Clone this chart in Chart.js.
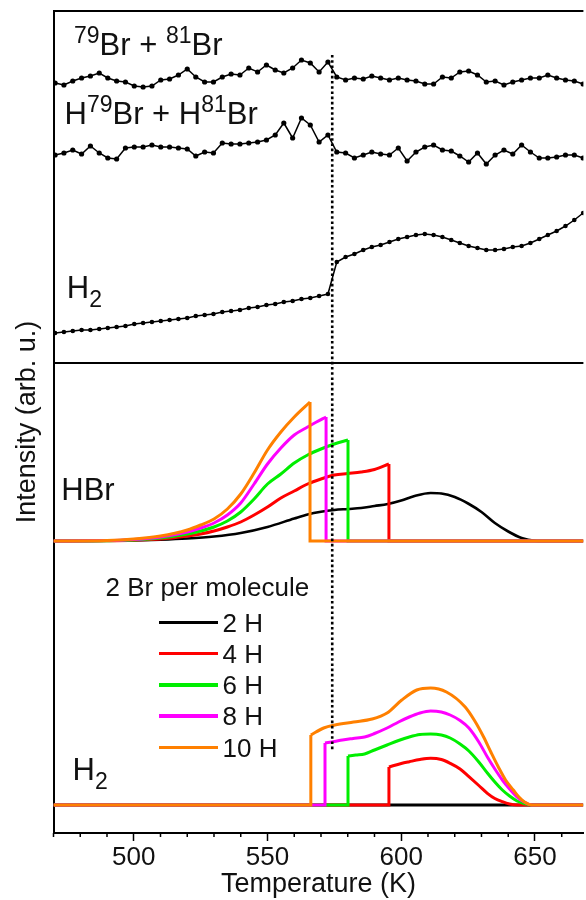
<!DOCTYPE html>
<html><head><meta charset="utf-8">
<script src="https://cdn.jsdelivr.net/npm/chart.js@4.4.1/dist/chart.umd.min.js"></script>
<style>
html,body{margin:0;padding:0;background:#fff;overflow:hidden;}
#wrap{position:relative;width:586px;height:900px;}
#c{position:absolute;left:0;top:0;}
.lbl{position:absolute;font-family:'Liberation Sans',Arial,sans-serif;color:#111;line-height:1;white-space:nowrap;}
.big{font-size:31px;}
.sup{font-size:23px;position:relative;top:-12px;}
.sub{font-size:23px;position:relative;top:9px;}
.leg{font-size:26px;}
.sw{position:absolute;height:3.5px;width:59px;}
</style></head>
<body><div id="wrap"><canvas id="c" width="586" height="900" style="width:586px;height:900px"></canvas>
<div class="lbl big" style="left:74px;top:28.8px"><span class="sup">79</span>Br + <span class="sup">81</span>Br</div>
<div class="lbl big" style="left:64.5px;top:97.8px">H<span class="sup">79</span>Br + H<span class="sup">81</span>Br</div>
<div class="lbl big" style="left:66.8px;top:272px">H<span class="sub">2</span></div>
<div class="lbl big" style="left:61.3px;top:473.8px">HBr</div>
<div class="lbl big" style="left:72.5px;top:753.8px">H<span class="sub">2</span></div>
<div class="lbl leg" style="left:105.5px;top:574px">2 Br per molecule</div>
<div id="legend"></div>
</div>
<script>
// ---------- data ----------
const TOP_T = [470.6, 473.9, 477.2, 480.5, 483.8, 487.1, 490.3, 493.6, 496.9, 500.2,
  503.5, 506.8, 510.1, 513.4, 516.7, 520.0, 523.2, 526.5, 529.8, 533.1,
  536.4, 539.7, 543.0, 546.3, 549.6, 552.9, 556.1, 559.4, 562.7, 566.0,
  569.3, 572.6, 575.9, 579.2, 582.5, 585.8, 589.0, 592.3, 595.6, 598.9,
  602.2, 605.5, 608.8, 612.1, 615.4, 618.7, 621.9, 625.2, 628.5, 631.8,
  635.1, 638.4, 641.7, 645.0, 648.3, 651.6, 654.8, 658.1, 661.4, 664.7, 668.0];
const BR_TOP = [75.0, 74.8, 75.2, 75.5, 75.7, 76.0, 75.5, 75.2, 75.1, 74.7,
  74.6, 74.7, 75.3, 75.4, 75.8, 76.4, 75.6, 75.1, 75.1, 75.6,
  75.9, 75.8, 76.5, 76.1, 76.8, 76.3, 76.0, 76.5, 77.3, 77.0,
  76.1, 77.1, 75.6, 75.3, 75.5, 75.4, 75.7, 75.5, 75.3, 75.5,
  75.3, 75.2, 74.9, 74.9, 75.6, 75.5, 76.1, 76.2, 75.8, 75.1,
  75.2, 74.8, 75.1, 75.3, 75.5, 75.5, 75.8, 75.5, 75.3, 75.2, 74.9];
const HBR_TOP = [67.8, 68.0, 68.3, 67.9, 68.7, 68.0, 67.5, 67.4, 68.5, 68.6,
  68.6, 68.8, 68.6, 68.6, 68.5, 68.4, 67.7, 68.1, 68.0, 69.0,
  68.9, 68.9, 69.0, 69.1, 69.3, 69.8, 71.0, 69.5, 71.5, 70.8,
  69.1, 69.8, 68.1, 68.0, 67.5, 67.8, 68.1, 67.9, 67.8, 68.5,
  67.2, 68.1, 68.6, 68.8, 68.3, 68.2, 67.7, 67.1, 68.0, 66.9,
  67.8, 68.3, 67.9, 68.8, 68.1, 67.5, 67.5, 67.6, 67.8, 67.8, 67.5];
const H2_TOP = [50.0, 50.1, 50.2, 50.3, 50.3, 50.4, 50.5, 50.6, 50.7, 50.9,
  51.0, 51.1, 51.2, 51.3, 51.4, 51.5, 51.7, 51.8, 51.9, 52.1,
  52.2, 52.3, 52.5, 52.6, 52.8, 52.9, 53.1, 53.2, 53.4, 53.5,
  53.7, 53.9, 57.1, 57.6, 57.9, 58.3, 58.6, 58.8, 59.1, 59.4,
  59.6, 59.8, 59.9, 59.8, 59.6, 59.3, 59.0, 58.7, 58.5, 58.3,
  58.3, 58.4, 58.6, 58.7, 59.0, 59.4, 59.8, 60.2, 60.7, 61.3, 62.0];

// simulated HBr desorption (middle panel)
const HBR_BASE = 29.2;
const HBR_BLACK_T = [470, 490, 500, 510, 520, 530, 540, 550, 560, 565, 570, 575, 580, 585, 590, 595, 600, 605, 611, 615, 620, 625, 630, 635, 640, 645, 650, 655, 668];
const HBR_BLACK = [29.2, 29.22, 29.26, 29.33, 29.45, 29.65, 30.0, 30.6, 31.45, 31.85, 32.12, 32.3, 32.4, 32.5, 32.7, 32.9, 33.25, 33.7, 34.0, 33.95, 33.6, 32.95, 32.1, 31.0, 30.15, 29.5, 29.23, 29.2, 29.2];
const HBR_RED_T = [470, 490, 500, 510, 520, 525, 530, 535, 540, 545, 550, 555, 560, 565, 570, 575, 580, 585, 590, 595.4];
const HBR_RED = [29.2, 29.23, 29.28, 29.4, 29.7, 29.9, 30.2, 30.6, 31.1, 31.8, 32.6, 33.5, 34.2, 34.9, 35.4, 35.8, 35.95, 36.1, 36.35, 36.9];
const HBR_GREEN_T = [470, 490, 500, 510, 520, 525, 530, 535, 540, 545, 550, 555, 560, 565, 570, 575, 580.1];
const HBR_GREEN = [29.2, 29.23, 29.3, 29.5, 29.9, 30.2, 30.6, 31.2, 32.1, 33.4, 34.9, 35.9, 37.0, 37.8, 38.4, 38.9, 39.3];
const HBR_MAGENTA_T = [470, 490, 500, 510, 520, 525, 530, 535, 540, 545, 550, 555, 560, 565, 568.3, 571.9];
const HBR_MAGENTA = [29.2, 29.24, 29.35, 29.6, 30.1, 30.5, 31.0, 31.8, 33.0, 34.9, 36.9, 38.5, 39.8, 40.6, 41.1, 41.6];
const HBR_ORANGE_T = [470, 490, 500, 510, 520, 525, 530, 535, 540, 545, 550, 555, 560, 565.9];
const HBR_ORANGE = [29.2, 29.25, 29.4, 29.7, 30.3, 30.8, 31.4, 32.4, 33.9, 36.0, 38.3, 40.1, 41.6, 43.1];

// simulated H2 desorption (bottom panel)
const H2_BASE = 2.8;
const H2_RED_T = [595.4, 600, 603, 607, 611, 615, 618.3, 622, 625.3, 629, 632.2, 635, 637.8, 640.5, 643.3, 650, 668];
const H2_RED = [6.6, 6.95, 7.13, 7.35, 7.47, 7.35, 6.97, 6.4, 5.63, 4.75, 3.97, 3.45, 3.13, 2.9, 2.8, 2.8, 2.8];
const H2_GREEN_T = [580.1, 583, 586.3, 590, 594.7, 599, 603, 607, 611, 615, 618.3, 622, 625.3, 629, 632.2, 635, 637.8, 640.5, 643.3, 646, 648.9, 655, 668];
const H2_GREEN = [7.7, 7.8, 7.9, 8.3, 8.8, 9.25, 9.6, 9.85, 9.9, 9.8, 9.5, 8.9, 8.2, 7.1, 6.0, 5.1, 4.3, 3.7, 3.2, 2.95, 2.8, 2.8, 2.8];
const H2_MAGENTA_T = [571.5, 575, 578, 582, 586.3, 590, 594.7, 599, 603, 607, 611, 615, 618.3, 622, 625.3, 629, 632.2, 635, 637.8, 640.5, 643.3, 646, 648.9, 655, 668];
const H2_MAGENTA = [9.0, 9.15, 9.3, 9.45, 9.6, 9.95, 10.5, 11.1, 11.6, 12.0, 12.2, 12.1, 11.8, 11.25, 10.5, 9.1, 7.6, 6.4, 5.3, 4.4, 3.6, 3.1, 2.8, 2.8, 2.8];
const H2_ORANGE_T = [566.2, 571, 575.2, 582.2, 589.1, 594.7, 600.2, 605.8, 611, 616.9, 623.9, 627.5, 630.8, 633.5, 636.3, 639, 641.9, 644, 646.1, 648.9, 655, 668];
const H2_ORANGE = [9.8, 10.5, 10.8, 11.1, 11.4, 12.0, 13.3, 14.3, 14.5, 14.1, 12.6, 11.2, 9.6, 8.1, 6.6, 5.3, 4.3, 3.6, 3.1, 2.8, 2.8, 2.8];

const LEGEND_LABELS = ['2 H', '4 H', '6 H', '8 H', '10 H'];
const COLORS = ['#000000', '#ff0000', '#00ee00', '#ff00ff', '#ff8000'];

const X_MIN = 470, X_MAX = 668.1;
const Y_MIN = 0, Y_MAX = 82.2;
const MAJOR_TICKS = [500, 550, 600, 650];
const MINOR_TICKS = [470, 480, 490, 510, 520, 530, 540, 560, 570, 580, 590, 610, 620, 630, 640, 660];
const PANEL_SPLIT = 47.0;
const MARKER_T = 574.2, MARKER_Y = [77.8, 8.3];

// ---------- build ----------
const FONT = "'Liberation Sans', Arial, sans-serif";
const pts = (T, V) => T.map((t, i) => ({x: t, y: V[i]}));

const datasets = [];
function dotted(T, V, r) {
  datasets.push({data: pts(T, V), showLine: true, borderColor: '#000', backgroundColor: '#000',
    borderWidth: 1.5, pointRadius: r, pointBorderWidth: 0, pointHoverRadius: r, order: 0});
}
dotted(TOP_T, BR_TOP, 2.6);
dotted(TOP_T, HBR_TOP, 2.6);
dotted(TOP_T, H2_TOP, 2.3);

datasets.push({data: [{x: MARKER_T, y: MARKER_Y[0]}, {x: MARKER_T, y: MARKER_Y[1]}], showLine: true,
  borderColor: '#000', borderWidth: 2.6, borderDash: [2.6, 2.6], pointRadius: 0, order: 0});

function smooth(T, V, color, order, w) {
  datasets.push({data: pts(T, V), showLine: true, borderColor: color, borderWidth: w || 3,
    pointRadius: 0, cubicInterpolationMode: 'monotone', order: order});
}
function straight(points, color, order) {
  datasets.push({data: points, showLine: true, borderColor: color, borderWidth: 3,
    pointRadius: 0, tension: 0, order: order});
}
// HBr panel
smooth(HBR_BLACK_T, HBR_BLACK, COLORS[0], 5, 2.6);
const hbrSets = [[HBR_RED_T, HBR_RED], [HBR_GREEN_T, HBR_GREEN], [HBR_MAGENTA_T, HBR_MAGENTA], [HBR_ORANGE_T, HBR_ORANGE]];
hbrSets.forEach(([T, V], k) => {
  const c = COLORS[k + 1], o = 4 - k;
  smooth(T, V, c, o);
  const tp = T[T.length - 1], vp = V[V.length - 1];
  straight([{x: tp, y: vp}, {x: tp, y: HBR_BASE}, {x: X_MAX, y: HBR_BASE}], c, o);
});
// H2 panel
straight([{x: X_MIN, y: H2_BASE}, {x: X_MAX, y: H2_BASE}], COLORS[0], 5);
const h2Sets = [[H2_RED_T, H2_RED], [H2_GREEN_T, H2_GREEN], [H2_MAGENTA_T, H2_MAGENTA], [H2_ORANGE_T, H2_ORANGE]];
h2Sets.forEach(([T, V], k) => {
  const c = COLORS[k + 1], o = 4 - k;
  straight([{x: X_MIN, y: H2_BASE}, {x: T[0], y: H2_BASE}, {x: T[0], y: V[0]}], c, o);
  smooth(T, V, c, o);
});

const framePlugin = {
  id: 'frame',
  afterDraw(chart) {
    const {ctx, chartArea: a, scales: {x, y}} = chart;
    ctx.save();
    ctx.strokeStyle = '#000';
    ctx.lineWidth = 2;
    ctx.beginPath();
    ctx.moveTo(a.left, a.top); ctx.lineTo(a.right, a.top);
    const ys = y.getPixelForValue(PANEL_SPLIT);
    ctx.moveTo(a.left, ys); ctx.lineTo(a.right, ys);
    ctx.stroke();
    ctx.lineWidth = 1.5;
    ctx.beginPath();
    MINOR_TICKS.forEach(t => { const px = x.getPixelForValue(t); ctx.moveTo(px, a.bottom); ctx.lineTo(px, a.bottom + 4); });
    ctx.stroke();
    ctx.restore();
  }
};

new Chart(document.getElementById('c'), {
  type: 'scatter',
  data: {datasets},
  options: {
    responsive: false, animation: false, events: [],
    layout: {padding: {left: 14.5, right: 0, top: 11, bottom: 1.5}},
    plugins: {legend: {display: false}, tooltip: {enabled: false}},
    scales: {
      x: {
        type: 'linear', min: X_MIN, max: X_MAX,
        afterBuildTicks: (axis) => { axis.ticks = MAJOR_TICKS.map(v => ({value: v})); },
        afterFit: (axis) => { axis.height = 65.5; axis.paddingLeft = 0; axis.paddingRight = 0; },
        ticks: {padding: 4, color: '#111', maxRotation: 0, minRotation: 0, autoSkip: false,
          font: {family: FONT, size: 26, lineHeight: 1}},
        grid: {display: true, drawOnChartArea: false, drawTicks: true, tickLength: 8, tickColor: '#000', tickWidth: 1.5},
        border: {display: true, color: '#000', width: 2},
        title: {display: true, text: 'Temperature (K)', color: '#111', font: {family: FONT, size: 27, lineHeight: 1},
          padding: {top: 0.5, bottom: 0}}
      },
      y: {
        type: 'linear', min: Y_MIN, max: Y_MAX,
        afterFit: (axis) => { axis.width = 39; },
        ticks: {display: false},
        grid: {display: false, drawTicks: false},
        border: {display: true, color: '#000', width: 2},
        title: {display: true, text: 'Intensity (arb. u.)', color: '#111', font: {family: FONT, size: 27, lineHeight: 1},
          padding: {top: 0, bottom: 12}}
      }
    }
  },
  plugins: [framePlugin]
});

// legend (inside bottom panel)
const LEG_ROWS = [622.3, 653.5, 684.8, 716, 747.3];
const legend = document.getElementById('legend');
LEGEND_LABELS.forEach((lab, i) => {
  const sw = document.createElement('div');
  sw.className = 'sw';
  sw.style.left = '159px'; sw.style.top = (LEG_ROWS[i] - 1.75) + 'px'; sw.style.background = COLORS[i];
  legend.appendChild(sw);
  const t = document.createElement('div');
  t.className = 'lbl leg';
  t.style.left = '222.5px'; t.style.top = (LEG_ROWS[i] - 12.6) + 'px';
  t.textContent = lab;
  legend.appendChild(t);
});
</script>
</body></html>
